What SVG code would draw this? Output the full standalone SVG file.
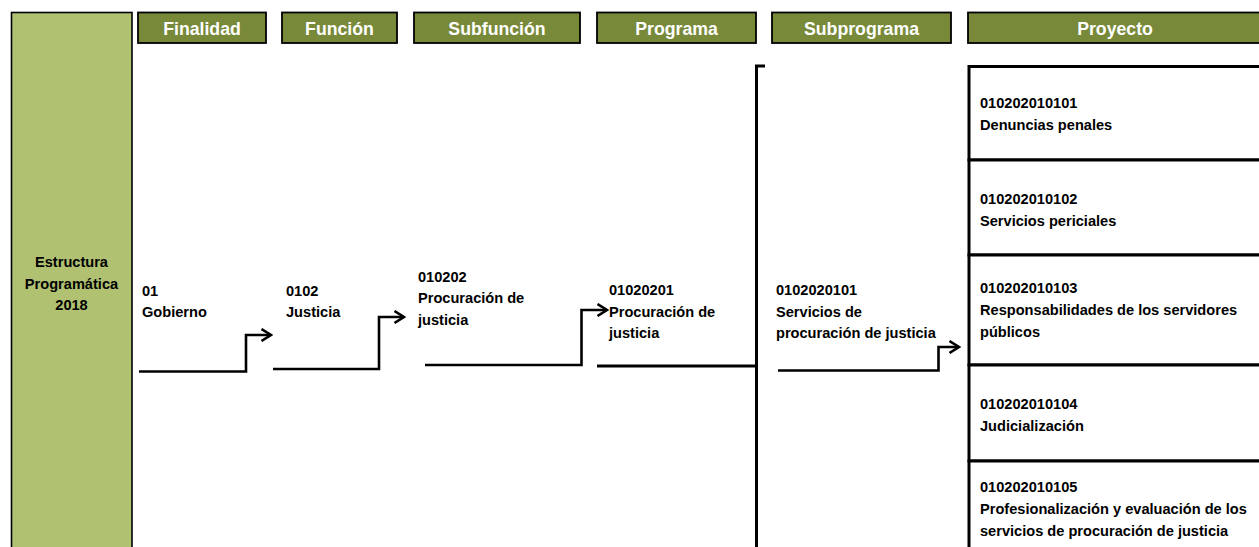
<svg xmlns="http://www.w3.org/2000/svg" width="1259" height="547" viewBox="0 0 1259 547">
<style>
.hdr{fill:#78893A;stroke:#000;stroke-width:1.8}
.hdrt{fill:#fff;font-family:"Liberation Sans",Arial,sans-serif;font-weight:bold;font-size:17.7px;text-anchor:middle}
.t{fill:#000;font-family:"Liberation Sans",Arial,sans-serif;font-weight:bold;font-size:14.6px}
.side{fill:#B0C272;stroke:#000;stroke-width:1.6}
.pbox{fill:#fff;stroke:#000;stroke-width:3}
.conn{fill:none;stroke:#000;stroke-width:2.6}
.thick{fill:none;stroke:#000;stroke-width:3}
</style>
<defs>
<marker id="arr" viewBox="0 0 12 14" refX="10.5" refY="7" markerWidth="12" markerHeight="14" markerUnits="userSpaceOnUse" orient="auto">
<path d="M1,1 L10.5,7 L1,13" fill="none" stroke="#000" stroke-width="2.5"/>
</marker>
</defs>
<rect width="1259" height="547" fill="#fff"/>

<g id="estructura">
<rect class="side" x="11.5" y="12.5" width="120.5" height="540"/>
<text class="t" text-anchor="middle" x="71.5" y="267">Estructura</text>
<text class="t" text-anchor="middle" x="71.5" y="288.5">Programática</text>
<text class="t" text-anchor="middle" x="71.5" y="310">2018</text>
</g>

<g id="hdr-finalidad"><rect class="hdr" x="138" y="12.5" width="128" height="30.5"/><text class="hdrt" x="202" y="34.5">Finalidad</text></g>
<g id="hdr-funcion"><rect class="hdr" x="282" y="12.5" width="115" height="30.5"/><text class="hdrt" x="339.5" y="34.5">Función</text></g>
<g id="hdr-subfuncion"><rect class="hdr" x="414" y="12.5" width="166" height="30.5"/><text class="hdrt" x="497" y="34.5">Subfunción</text></g>
<g id="hdr-programa"><rect class="hdr" x="597" y="12.5" width="159" height="30.5"/><text class="hdrt" x="676.5" y="34.5">Programa</text></g>
<g id="hdr-subprograma"><rect class="hdr" x="772" y="12.5" width="179" height="30.5"/><text class="hdrt" x="861.5" y="34.5">Subprograma</text></g>
<g id="hdr-proyecto"><rect class="hdr" x="968" y="12.5" width="300" height="30.5"/><text class="hdrt" x="1115" y="34.5">Proyecto</text></g>

<g id="finalidad">
<text class="t" x="142" y="295.5">01</text>
<text class="t" x="142" y="317">Gobierno</text>
</g>
<g id="funcion">
<text class="t" x="286" y="295.5">0102</text>
<text class="t" x="286" y="317">Justicia</text>
</g>
<g id="subfuncion">
<text class="t" x="418" y="281.5">010202</text>
<text class="t" x="418" y="303">Procuración de</text>
<text class="t" x="418" y="324.5">justicia</text>
</g>
<g id="programa">
<text class="t" x="609" y="295">01020201</text>
<text class="t" x="609" y="316.5">Procuración de</text>
<text class="t" x="609" y="338">justicia</text>
</g>
<g id="subprograma">
<text class="t" x="776" y="295">0102020101</text>
<text class="t" x="776" y="316.5">Servicios de</text>
<text class="t" x="776" y="338">procuración de justicia</text>
</g>

<g id="proyecto-1">
<rect class="pbox" x="969" y="66.5" width="300" height="93.5"/>
<text class="t" x="980" y="108">010202010101</text>
<text class="t" x="980" y="130">Denuncias penales</text>
</g>
<g id="proyecto-2">
<rect class="pbox" x="969" y="160" width="300" height="95"/>
<text class="t" x="980" y="204">010202010102</text>
<text class="t" x="980" y="226">Servicios periciales</text>
</g>
<g id="proyecto-3">
<rect class="pbox" x="969" y="255" width="300" height="110"/>
<text class="t" x="980" y="292.5">010202010103</text>
<text class="t" x="980" y="314.5">Responsabilidades de los servidores</text>
<text class="t" x="980" y="336.5">públicos</text>
</g>
<g id="proyecto-4">
<rect class="pbox" x="969" y="365" width="300" height="96"/>
<text class="t" x="980" y="409">010202010104</text>
<text class="t" x="980" y="431">Judicialización</text>
</g>
<g id="proyecto-5">
<rect class="pbox" x="969" y="461" width="300" height="100"/>
<text class="t" x="980" y="492">010202010105</text>
<text class="t" x="980" y="514">Profesionalización y evaluación de los</text>
<text class="t" x="980" y="536">servicios de procuración de justicia</text>
</g>

<g id="connectors">
<path class="conn" d="M139,371.5 H246 V335 H271" marker-end="url(#arr)"/>
<path class="conn" d="M273,369 H379 V317 H404" marker-end="url(#arr)"/>
<path class="conn" d="M425,365 H581.5 V310 H607" marker-end="url(#arr)"/>
<path class="conn" d="M778,370.5 H938.5 V347 H959" marker-end="url(#arr)"/>
<path class="thick" d="M597,366 H756.5"/>
<path class="thick" d="M765,66 H756.5 V550"/>
</g>
</svg>
